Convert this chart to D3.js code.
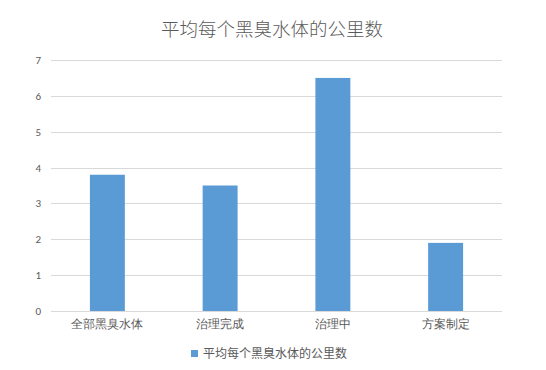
<!DOCTYPE html>
<html><head><meta charset="utf-8">
<script src="https://cdn.jsdelivr.net/npm/d3@7"></script>
<style>body{margin:0;background:#fff;}svg{display:block;font-family:"Noto Sans CJK SC","Noto Sans",sans-serif;}</style>
</head><body><svg id="c" width="546" height="370"></svg>
<script>
const categories = ["全部黑臭水体","治理完成","治理中","方案制定"];
const values = [3.8, 3.5, 6.5, 1.9];
const yTicks = [0,1,2,3,4,5,6,7];
const seriesName = "平均每个黑臭水体的公里数";
const title = "平均每个黑臭水体的公里数";

const svg = d3.select("#c");
const m = {left:51, right:44, top:60, bottom:59};
const W = 546, H = 370;
const x = d3.scaleBand().domain(categories).range([m.left, W - m.right]).paddingInner(0.69).paddingOuter(0.345);
const y = d3.scaleLinear().domain([0,7]).range([H - m.bottom, m.top]);

svg.append("text").attr("x", 272).attr("y", 36).attr("text-anchor","middle")
  .attr("font-size", 18.5).attr("font-weight", 300).attr("fill","#595959").text(title);

const g = svg.append("g");
g.selectAll("line.grid").data(yTicks).join("line")
  .attr("x1", m.left).attr("x2", W - m.right)
  .attr("y1", d => Math.round(y(d)) + 0.5).attr("y2", d => Math.round(y(d)) + 0.5)
  .attr("stroke","#d9d9d9").attr("stroke-width",1);

const yAxis = d3.axisLeft(y).tickValues(yTicks).tickFormat(d3.format("d")).tickSize(0).tickPadding(10);
const ya = svg.append("g").attr("transform",`translate(${m.left},0)`).call(yAxis);
ya.select(".domain").remove();
ya.selectAll("text").attr("font-size",11).attr("fill","#595959").attr("font-family","Calibri,'Liberation Sans',sans-serif");

g.selectAll("rect.bar").data(values).join("rect")
  .attr("x",(d,i)=>x(categories[i])).attr("width",x.bandwidth())
  .attr("y",d=>y(d)).attr("height",d=>y(0)-y(d)).attr("fill","#5b9bd5");

const xAxis = d3.axisBottom(x).tickSize(0).tickPadding(8);
const xa = svg.append("g").attr("transform",`translate(0,${H - m.bottom})`).call(xAxis);
xa.select(".domain").remove();
xa.selectAll("text").attr("font-size",12).attr("fill","#595959");

const leg = svg.append("g");
leg.append("rect").attr("x",191).attr("y",350).attr("width",7).attr("height",7).attr("fill","#5b9bd5");
leg.append("text").attr("x",203).attr("y",358).attr("font-size",12).attr("fill","#595959").text(seriesName);
</script></body></html>
